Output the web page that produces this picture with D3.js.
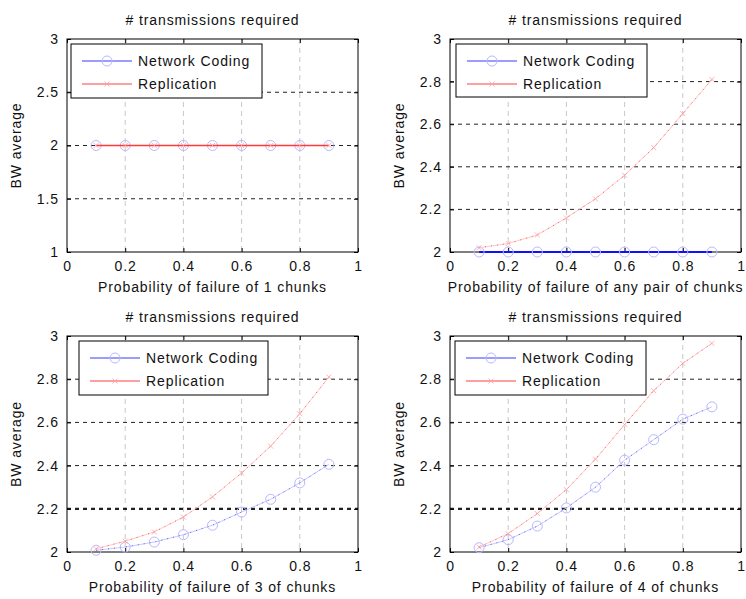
<!DOCTYPE html>
<html>
<head>
<meta charset="utf-8">
<script src="https://cdn.jsdelivr.net/npm/d3@7"></script>
<style>
  body { margin: 0; background: #fff; }
  text { font-family: "Liberation Sans", Arial, sans-serif; fill: #111; letter-spacing: 0.9px; }
</style>
</head>
<body>
<script>
// values
const probs = [0.1, 0.2, 0.3, 0.4, 0.5, 0.6, 0.7, 0.8, 0.9];
const xTicks = [0, 0.2, 0.4, 0.6, 0.8, 1];
const yTicksA = [1, 1.5, 2, 2.5, 3];
const yTicksB = [2, 2.2, 2.4, 2.6, 2.8, 3];
const titleText = "# transmissions required";
const xLabels = [
  "Probability of failure of 1 chunks",
  "Probability of failure of any pair of chunks",
  "Probability of failure of 3 of chunks",
  "Probability of failure of 4 of chunks"
];
const seriesNames = ["Network Coding", "Replication"];

const nc1 = [2, 2, 2, 2, 2, 2, 2, 2, 2];
const rep1 = [2, 2, 2, 2, 2, 2, 2, 2, 2];
const nc2 = [2, 2, 2, 2, 2, 2, 2, 2, 2];
const rep2 = [2.02, 2.04, 2.08, 2.16, 2.25, 2.36, 2.49, 2.65, 2.81];
const nc3 = [2.008, 2.023, 2.046, 2.08, 2.124, 2.185, 2.244, 2.32, 2.406];
const rep3 = [2.015, 2.05, 2.093, 2.162, 2.255, 2.366, 2.49, 2.64, 2.81];
const nc4 = [2.02, 2.057, 2.12, 2.204, 2.30, 2.425, 2.52, 2.615, 2.672];
const rep4 = [2.023, 2.085, 2.178, 2.289, 2.43, 2.59, 2.747, 2.873, 2.966];

// layout of the four axes
const panels = [
  {x: 67,  y: 39,  w: 291, h: 213, yDom: [1, 3], yt: yTicksA, nc: nc1, rep: rep1, xl: xLabels[0], strong: "rep", leg: [71, 44, 191, 54]},
  {x: 450, y: 39,  w: 291, h: 213, yDom: [2, 3], yt: yTicksB, nc: nc2, rep: rep2, xl: xLabels[1], strong: "nc",  leg: [456, 44, 191, 53]},
  {x: 67,  y: 336, w: 291, h: 216, yDom: [2, 3], yt: yTicksB, nc: nc3, rep: rep3, xl: xLabels[2], strong: null, leg: [79, 341, 189, 54], bold: 2.2},
  {x: 450, y: 336, w: 291, h: 216, yDom: [2, 3], yt: yTicksB, nc: nc4, rep: rep4, xl: xLabels[3], strong: null, leg: [455, 341, 191, 54], bold: 2.2}
];

const svg = d3.select("body").append("svg")
  .attr("width", 746).attr("height", 599);

const fmt = d => d3.format("~g")(d);

panels.forEach(function(p){
  const g = svg.append("g").attr("transform", `translate(${p.x},${p.y})`);
  const x = d3.scaleLinear().domain([0, 1]).range([0, p.w]);
  const y = d3.scaleLinear().domain(p.yDom).range([p.h, 0]);

  // vertical grid, light
  g.selectAll(".vg").data(xTicks.slice(1, -1)).enter().append("line")
    .attr("x1", d => x(d)).attr("x2", d => x(d))
    .attr("y1", 0).attr("y2", p.h)
    .attr("stroke", "#c8c8c8").attr("stroke-dasharray", "5,4");

  // horizontal grid, dark
  g.selectAll(".hg").data(p.yt.slice(1, -1)).enter().append("line")
    .attr("x1", 0).attr("x2", p.w)
    .attr("y1", d => y(d)).attr("y2", d => y(d))
    .attr("stroke", "#222")
    .attr("stroke-width", d => d === p.bold ? 2.2 : 1)
    .attr("stroke-dasharray", "4,4");

  // axes box with inward ticks (under the data)
  g.append("rect").attr("width", p.w).attr("height", p.h)
    .attr("fill", "none").attr("stroke", "#000").attr("stroke-width", 1);

  const xAxis = g.append("g").attr("transform", `translate(0,${p.h})`)
    .call(d3.axisBottom(x).tickValues(xTicks).tickFormat(fmt).tickSizeInner(-4).tickSizeOuter(0).tickPadding(9));
  const yAxis = g.append("g")
    .call(d3.axisLeft(y).tickValues(p.yt).tickFormat(fmt).tickSizeInner(-4).tickSizeOuter(0).tickPadding(8));
  [xAxis, yAxis].forEach(a => {
    a.select(".domain").remove();
    a.selectAll("text").attr("font-size", 14).style("font-family", "'Liberation Sans', Arial, sans-serif").attr("fill", "#111");
    a.selectAll("line").attr("stroke", "#000");
  });
  g.append("g")
    .call(d3.axisTop(x).tickValues(xTicks).tickFormat("").tickSizeInner(-4).tickSizeOuter(0))
    .call(a => a.select(".domain").remove());
  g.append("g").attr("transform", `translate(${p.w},0)`)
    .call(d3.axisRight(y).tickValues(p.yt).tickFormat("").tickSizeInner(-4).tickSizeOuter(0))
    .call(a => a.select(".domain").remove());

  const line = d3.line().x((d, i) => x(probs[i])).y(d => y(d));

  function paleSeries(vals, pale, dark){
    g.append("path").datum(vals).attr("d", line)
      .attr("fill", "none").attr("stroke", pale).attr("stroke-width", 1);
    g.append("path").datum(vals).attr("d", line)
      .attr("fill", "none").attr("stroke", dark).attr("stroke-width", 1)
      .attr("stroke-dasharray", "1,5").attr("opacity", 0.7);
  }

  // network coding
  if (p.strong === "nc") {
    g.append("path").datum(p.nc).attr("d", line)
      .attr("fill", "none").attr("stroke", "#1010ff").attr("stroke-width", 2);
  } else {
    paleSeries(p.nc, "#c8c8ff", "#2a2aff");
  }
  g.selectAll(".mk").data(p.nc).enter().append("circle")
    .attr("cx", (d, i) => x(probs[i])).attr("cy", d => y(d))
    .attr("r", 5).attr("fill", "none")
    .attr("stroke", "#b8b8ff").attr("stroke-width", 1);

  // replication
  if (p.strong === "rep") {
    g.append("path").datum(p.rep).attr("d", line)
      .attr("fill", "none").attr("stroke", "#ff3838").attr("stroke-width", 1.6);
  } else {
    paleSeries(p.rep, "#ffc8c8", "#ff2020");
  }
  g.selectAll(".xm").data(p.rep).enter().append("path")
    .attr("d", (d, i) => {
      const cx = x(probs[i]), cy = y(d), s = 2.5;
      return `M${cx-s},${cy-s}L${cx+s},${cy+s}M${cx-s},${cy+s}L${cx+s},${cy-s}`;
    })
    .attr("stroke", "#ffa0a0").attr("stroke-width", 0.8);

  // title and labels
  svg.append("text").attr("x", p.x + p.w / 2).attr("y", p.y - 14)
    .attr("text-anchor", "middle").attr("font-size", 14).text(titleText);
  svg.append("text").attr("x", p.x + p.w / 2).attr("y", p.y + p.h + 40)
    .attr("text-anchor", "middle").attr("font-size", 14).text(p.xl);
  svg.append("text")
    .attr("transform", `translate(${p.x - 46},${p.y + p.h / 2}) rotate(-90)`)
    .attr("text-anchor", "middle").attr("font-size", 14).text("BW average");

  // legend
  const [lx, ly, lw, lh] = p.leg;
  const lg = svg.append("g").attr("transform", `translate(${lx},${ly})`);
  lg.append("rect").attr("width", lw).attr("height", lh)
    .attr("fill", "#fff").attr("stroke", "#000").attr("stroke-width", 1);
  const legColors = ["#3a3aff", "#ff4040"];
  seriesNames.forEach(function(name, i){
    const cy = 17 + i * 23;
    lg.append("line").attr("x1", 11).attr("x2", 61).attr("y1", cy).attr("y2", cy)
      .attr("stroke", legColors[i]).attr("stroke-width", 1.2);
    if (i === 0) {
      lg.append("circle").attr("cx", 36).attr("cy", cy).attr("r", 5)
        .attr("fill", "none").attr("stroke", "#b8b8ff");
    } else {
      lg.append("path").attr("d", `M33.5,${cy-2.5}L38.5,${cy+2.5}M33.5,${cy+2.5}L38.5,${cy-2.5}`)
        .attr("stroke", "#ffa0a0").attr("stroke-width", 0.8);
    }
    lg.append("text").attr("x", 67).attr("y", cy + 5).attr("font-size", 14).text(name);
  });
});
</script>
</body>
</html>
